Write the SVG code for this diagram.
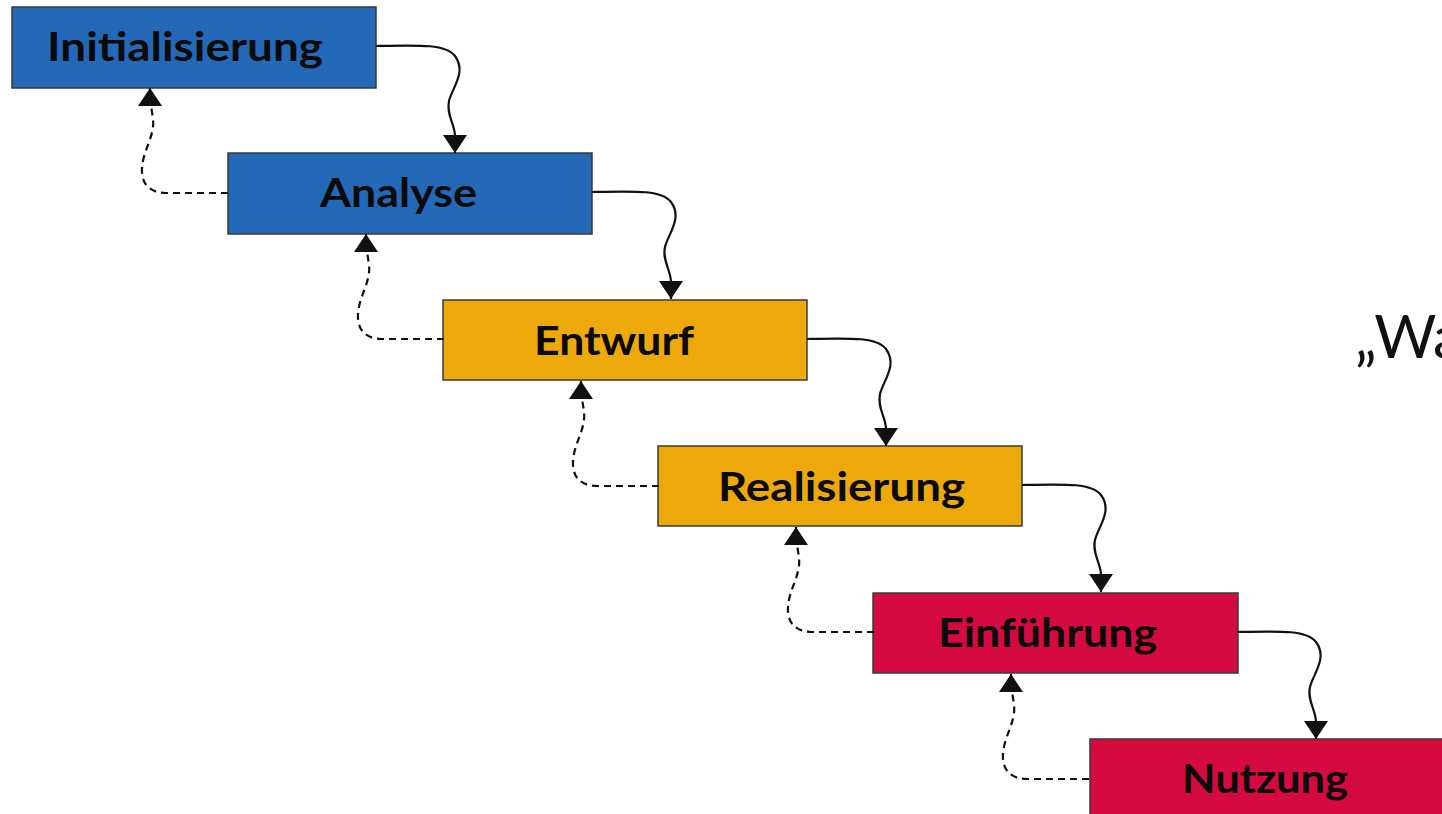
<svg xmlns="http://www.w3.org/2000/svg" width="1442" height="814" viewBox="0 0 1442 814">
  <style>
    .box { stroke: #3a3a3a; stroke-width: 1.5; }
    .blue { fill: #2369b8; }
    .gold { fill: #eda80a; }
    .red { fill: #d40a40; }
    .label { font-family: Lato, "Open Sans", "Liberation Sans", sans-serif; font-weight: bold; font-size: 40px; fill: #0a0a0a; text-anchor: middle; }
    .flow { fill: none; stroke: #111; stroke-width: 2.2; }
    .back { fill: none; stroke: #111; stroke-width: 2.2; stroke-dasharray: 7 5; }
    .title { font-family: Lato, "Open Sans", "Liberation Sans", sans-serif; font-size: 60px; fill: #111; }
  </style>
  <defs>
    <marker id="head" viewBox="0 0 18 24" refX="18" refY="12" markerWidth="18" markerHeight="24" markerUnits="userSpaceOnUse" orient="auto">
      <path d="M0,0 L18,12 L0,24 z" fill="#111"/>
    </marker>
  </defs>
  <rect width="1442" height="814" fill="#ffffff"/>

  <g id="nodes">
    <g id="initialisierung">
      <rect class="box blue" x="12" y="7" width="364" height="81"/>
      <text class="label" x="185" y="61" textLength="276" lengthAdjust="spacingAndGlyphs">Initialisierung</text>
    </g>
    <g id="analyse">
      <rect class="box blue" x="228" y="153" width="364" height="81"/>
      <text class="label" x="398.5" y="207" textLength="157" lengthAdjust="spacingAndGlyphs">Analyse</text>
    </g>
    <g id="entwurf">
      <rect class="box gold" x="443" y="300" width="364" height="80"/>
      <text class="label" x="614" y="355" textLength="160" lengthAdjust="spacingAndGlyphs">Entwurf</text>
    </g>
    <g id="realisierung">
      <rect class="box gold" x="658" y="446" width="364" height="80"/>
      <text class="label" x="841.5" y="501" textLength="247" lengthAdjust="spacingAndGlyphs">Realisierung</text>
    </g>
    <g id="einfuehrung">
      <rect class="box red" x="873" y="593" width="365" height="80"/>
      <text class="label" x="1047.5" y="647" textLength="219" lengthAdjust="spacingAndGlyphs">Einführung</text>
    </g>
    <g id="nutzung">
      <rect class="box red" x="1090" y="739" width="364" height="81"/>
      <text class="label" x="1265" y="793" textLength="166" lengthAdjust="spacingAndGlyphs">Nutzung</text>
    </g>
  </g>

  <g id="connectors">
    <!-- forward steps: right edge of a phase down to the top of the next -->
    <g id="forward">
      <path class="flow" marker-end="url(#head)" d="M376,46 C420,45 446,44 455,56 C467,72 452,88 449,101 C446,115 455,124 455,136 L455,153"/>
      <path class="flow" marker-end="url(#head)" transform="translate(216,146)" d="M376,46 C420,45 446,44 455,56 C467,72 452,88 449,101 C446,115 455,124 455,136 L455,153"/>
      <path class="flow" marker-end="url(#head)" transform="translate(431,293)" d="M376,46 C420,45 446,44 455,56 C467,72 452,88 449,101 C446,115 455,124 455,136 L455,153"/>
      <path class="flow" marker-end="url(#head)" transform="translate(646,439)" d="M376,46 C420,45 446,44 455,56 C467,72 452,88 449,101 C446,115 455,124 455,136 L455,153"/>
      <path class="flow" marker-end="url(#head)" transform="translate(861,586)" d="M376,46 C420,45 446,44 455,56 C467,72 452,88 449,101 C446,115 455,124 455,136 L455,153"/>
    </g>
    <!-- feedback steps: left edge of a phase back up to the previous one -->
    <g id="feedback">
      <path class="back" marker-end="url(#head)" d="M228,193 L166,193 C149,193 141,183 142,168 C143,150 155,136 153,119 C152,110 150,104 150,88"/>
      <path class="back" marker-end="url(#head)" transform="translate(216,146)" d="M228,193 L166,193 C149,193 141,183 142,168 C143,150 155,136 153,119 C152,110 150,104 150,88"/>
      <path class="back" marker-end="url(#head)" transform="translate(431,293)" d="M228,193 L166,193 C149,193 141,183 142,168 C143,150 155,136 153,119 C152,110 150,104 150,88"/>
      <path class="back" marker-end="url(#head)" transform="translate(646,439)" d="M228,193 L166,193 C149,193 141,183 142,168 C143,150 155,136 153,119 C152,110 150,104 150,88"/>
      <path class="back" marker-end="url(#head)" transform="translate(861,586)" d="M228,193 L166,193 C149,193 141,183 142,168 C143,150 155,136 153,119 C152,110 150,104 150,88"/>
    </g>
  </g>

  <!-- heading that runs past the right edge -->
  <text class="title" x="1355" y="358">„Wa</text>
</svg>
